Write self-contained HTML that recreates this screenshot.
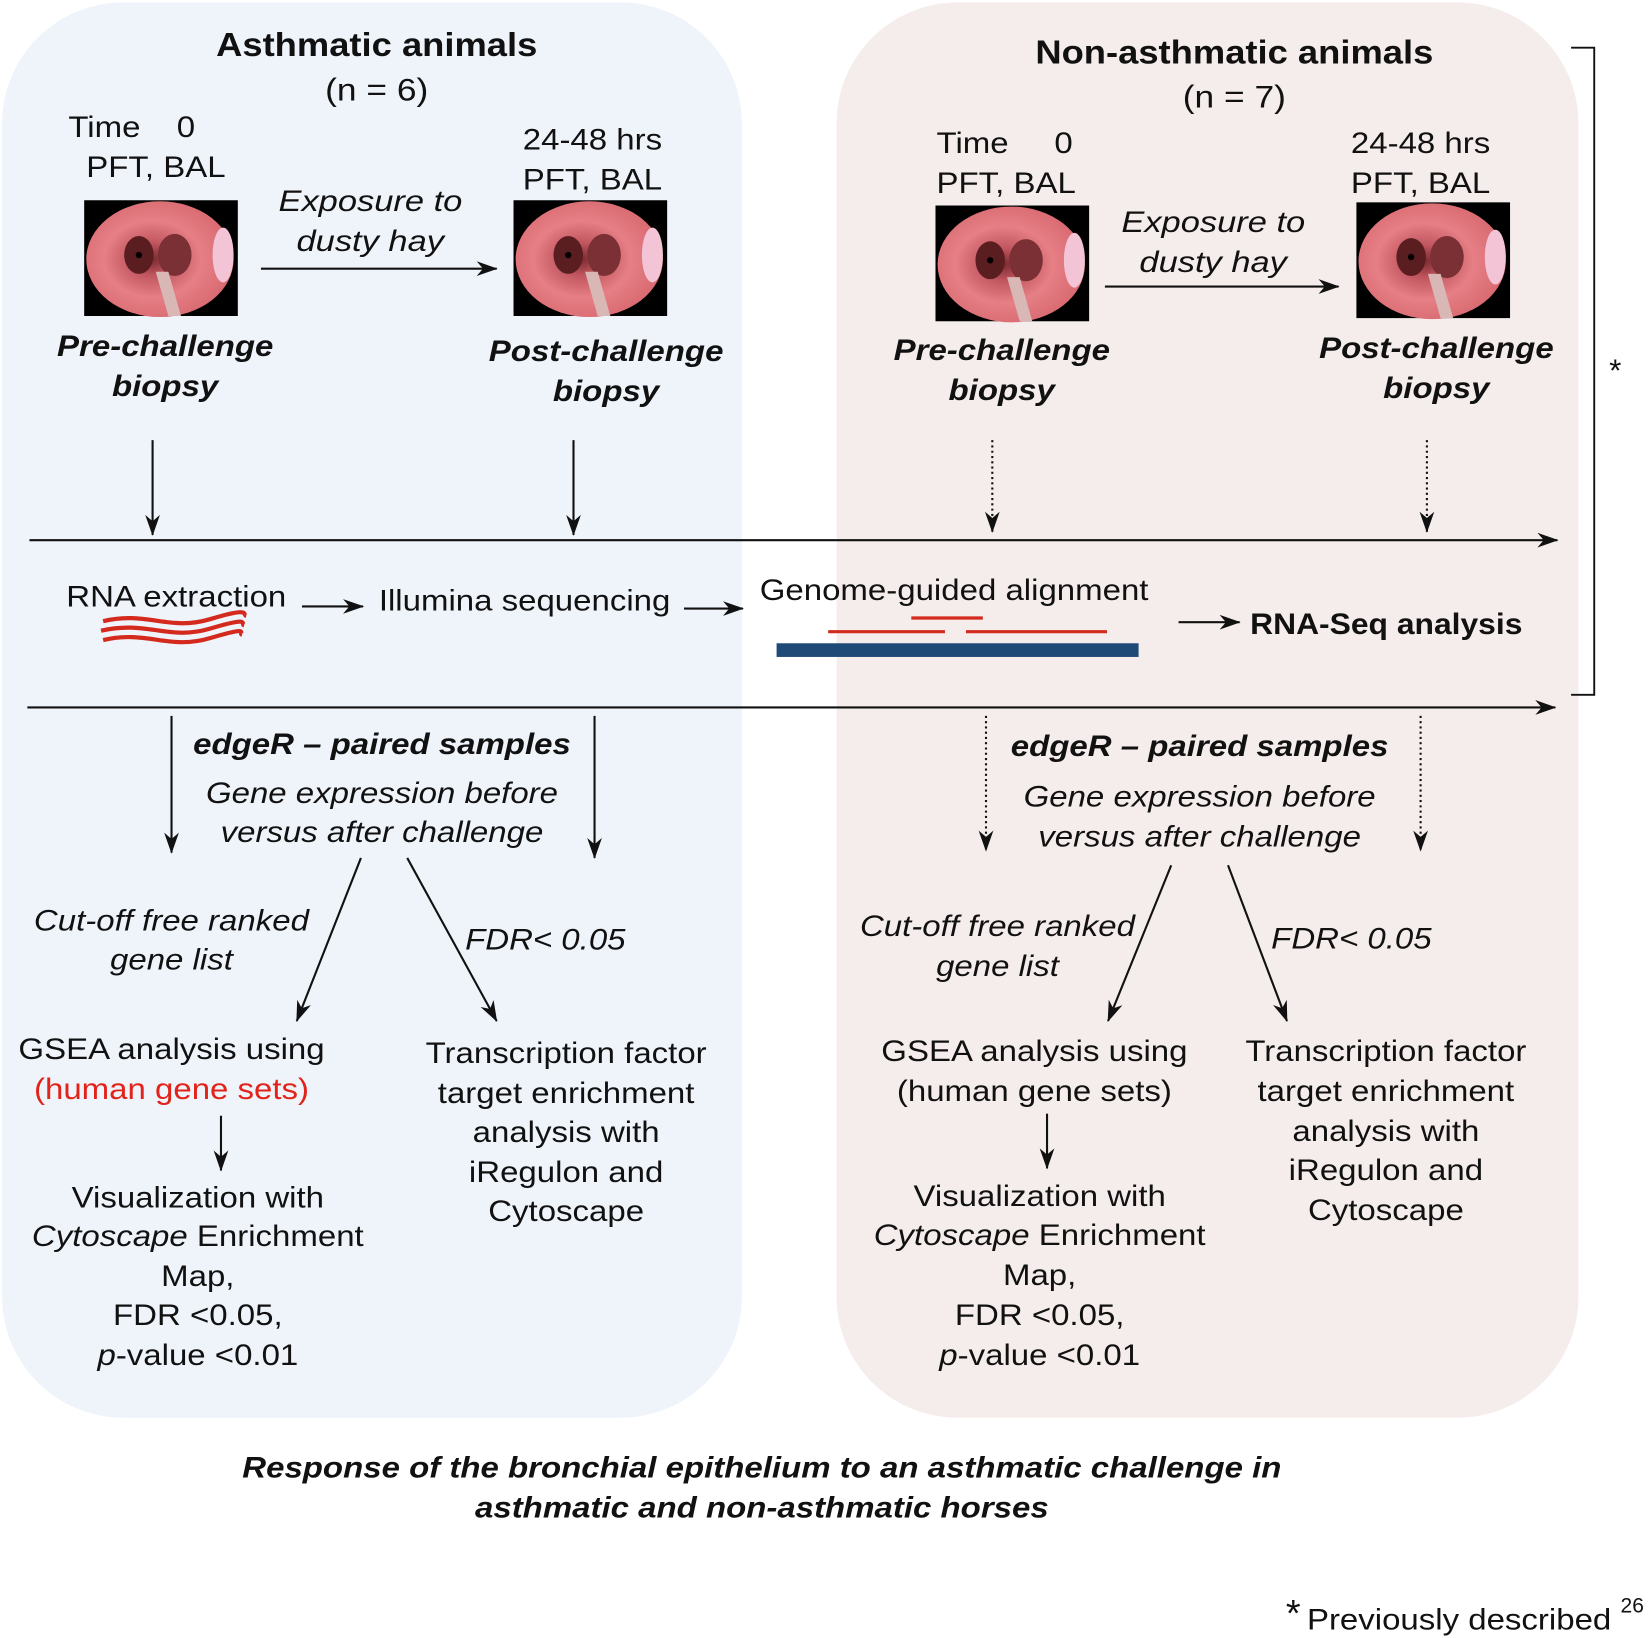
<!DOCTYPE html>
<html><head><meta charset="utf-8"><style>
html,body{margin:0;padding:0;background:#fff;}
svg{display:block;}
text{font-family:"Liberation Sans",Arial,sans-serif;font-size:28px;fill:#111;transform-box:fill-box;transform-origin:left center;transform:scaleX(1.12);}
.c{text-anchor:middle;transform-origin:center center;}
.i{font-style:italic;}
.b{font-weight:bold;}
.t{transform:scaleX(1.08);}
.e{transform:scaleX(1.17);}
.n{transform:none;}
</style></head><body>
<svg width="1650" height="1638" viewBox="0 0 1568 1556" xmlns="http://www.w3.org/2000/svg">
<defs>
<marker id="ah" viewBox="0 0 20 14" refX="19" refY="7" markerWidth="20" markerHeight="14" markerUnits="userSpaceOnUse" orient="auto">
<path d="M0,0 L20,7 L0,14 L6,7 Z" fill="#111"/>
</marker>
<radialGradient id="pk" cx="0.45" cy="0.5" r="0.55">
<stop offset="0" stop-color="#7a2a30"/>
<stop offset="0.25" stop-color="#c0555e"/>
<stop offset="0.6" stop-color="#e67f86"/>
<stop offset="1" stop-color="#d86a70"/>
</radialGradient>
<g id="endo">
<rect x="0" y="0" width="146" height="110" fill="#000"/>
<ellipse cx="72" cy="56" rx="70" ry="55" fill="url(#pk)"/>
<ellipse cx="132" cy="52" rx="10" ry="26" fill="#f3c4d6"/>
<ellipse cx="52" cy="52" rx="14" ry="18" fill="#5a1d20"/>
<ellipse cx="86" cy="52" rx="16" ry="20" fill="#7a3035"/>
<circle cx="52" cy="52" r="3" fill="#000"/>
<path d="M68,68 L80,68 L92,110 L80,110 Z" fill="#d9b7b5"/>
</g>
</defs>

<rect x="2" y="2" width="703" height="1345" rx="115" ry="115" fill="#eff4fb"/>
<rect x="795" y="2" width="705" height="1345" rx="115" ry="115" fill="#f5edeb"/>

<path d="M1493,45 L1515,45 L1515,660 L1493,660" fill="none" stroke="#111" stroke-width="1.8"/>
<text x="1535" y="362" class="c n" style="font-size:30px">*</text>

<text x="358" y="53" class="c b t" style="font-size:32px">Asthmatic animals</text>
<text x="358" y="95" class="c" style="font-size:30px">(n = 6)</text>
<text x="65" y="130">Time</text><text x="168" y="130">0</text>
<text x="82" y="168">PFT, BAL</text>
<use href="#endo" x="80" y="190"/>
<use href="#endo" x="488" y="190"/>
<text x="352" y="200" class="c i e">Exposure to</text>
<text x="352" y="238" class="c i e">dusty hay</text>
<line x1="248" y1="255" x2="472" y2="255" stroke="#111" stroke-width="2" marker-end="url(#ah)"/>
<text x="563" y="142" class="c">24-48 hrs</text>
<text x="563" y="180" class="c">PFT, BAL</text>
<text x="157" y="338" class="c b i">Pre-challenge</text>
<text x="157" y="376" class="c b i">biopsy</text>
<text x="576" y="343" class="c b i">Post-challenge</text>
<text x="576" y="381" class="c b i">biopsy</text>
<line x1="145" y1="418" x2="145" y2="508" stroke="#111" stroke-width="2" marker-end="url(#ah)"/>
<line x1="545" y1="418" x2="545" y2="508" stroke="#111" stroke-width="2" marker-end="url(#ah)"/>

<text x="1173" y="60" class="c b t" style="font-size:32px">Non-asthmatic animals</text>
<text x="1173" y="102" class="c" style="font-size:30px">(n = 7)</text>
<text x="890" y="145">Time</text><text x="1002" y="145">0</text>
<text x="890" y="183">PFT, BAL</text>
<use href="#endo" x="889" y="195"/>
<use href="#endo" x="1289" y="192"/>
<text x="1350" y="145" class="c">24-48 hrs</text>
<text x="1350" y="183" class="c">PFT, BAL</text>
<text x="1153" y="220" class="c i e">Exposure to</text>
<text x="1153" y="258" class="c i e">dusty hay</text>
<line x1="1050" y1="272" x2="1272" y2="272" stroke="#111" stroke-width="2" marker-end="url(#ah)"/>
<text x="952" y="342" class="c b i">Pre-challenge</text>
<text x="952" y="380" class="c b i">biopsy</text>
<text x="1365" y="340" class="c b i">Post-challenge</text>
<text x="1365" y="378" class="c b i">biopsy</text>
<line x1="943" y1="418" x2="943" y2="505" stroke="#111" stroke-width="2" stroke-dasharray="2,3" marker-end="url(#ah)"/>
<line x1="1356" y1="418" x2="1356" y2="505" stroke="#111" stroke-width="2" stroke-dasharray="2,3" marker-end="url(#ah)"/>

<line x1="28" y1="513" x2="1480" y2="513" stroke="#111" stroke-width="2" marker-end="url(#ah)"/>
<text x="63" y="576">RNA extraction</text>
<g fill="none" stroke="#d42a1e" stroke-width="4">
<path d="M98,590 C140,580 160,600 200,588 S230,584 234,585"/>
<path d="M96,599 C140,589 160,609 200,597 S228,593 232,594"/>
<path d="M98,608 C140,598 160,618 200,606 S226,602 230,603"/>
</g>
<line x1="287" y1="576" x2="345" y2="576" stroke="#111" stroke-width="2" marker-end="url(#ah)"/>
<text x="360" y="580">Illumina sequencing</text>
<line x1="650" y1="578" x2="706" y2="578" stroke="#111" stroke-width="2" marker-end="url(#ah)"/>
<text x="722" y="570">Genome-guided alignment</text>
<line x1="866" y1="587" x2="934" y2="587" stroke="#d42a1e" stroke-width="3"/>
<line x1="787" y1="600" x2="898" y2="600" stroke="#d42a1e" stroke-width="3"/>
<line x1="918" y1="600" x2="1052" y2="600" stroke="#d42a1e" stroke-width="3"/>
<rect x="738" y="611" width="344" height="13" fill="#1f4a78"/>
<line x1="1120" y1="591" x2="1178" y2="591" stroke="#111" stroke-width="2" marker-end="url(#ah)"/>
<text x="1188" y="602" class="b t">RNA-Seq analysis</text>
<line x1="26" y1="672" x2="1478" y2="672" stroke="#111" stroke-width="2" marker-end="url(#ah)"/>

<line x1="163" y1="680" x2="163" y2="810" stroke="#111" stroke-width="2" marker-end="url(#ah)"/>
<line x1="565" y1="680" x2="565" y2="815" stroke="#111" stroke-width="2" marker-end="url(#ah)"/>
<text x="363" y="716" class="c b i">edgeR – paired samples</text>
<text x="363" y="763" class="c i">Gene expression before</text>
<text x="363" y="800" class="c i">versus after challenge</text>
<line x1="343" y1="815" x2="282" y2="970" stroke="#111" stroke-width="2" marker-end="url(#ah)"/>
<line x1="387" y1="815" x2="472" y2="970" stroke="#111" stroke-width="2" marker-end="url(#ah)"/>
<text x="163" y="884" class="c i">Cut-off free ranked</text>
<text x="163" y="921" class="c i">gene list</text>
<text x="442" y="902" class="i">FDR&lt; 0.05</text>
<text x="163" y="1006" class="c">GSEA analysis using</text>
<text x="163" y="1044" class="c" style="fill:#e2231a">(human gene sets)</text>
<line x1="210" y1="1060" x2="210" y2="1112" stroke="#111" stroke-width="2" marker-end="url(#ah)"/>
<text x="188" y="1147" class="c">Visualization with</text>
<text x="188" y="1184" class="c"><tspan class="i">Cytoscape</tspan> Enrichment</text>
<text x="188" y="1222" class="c">Map,</text>
<text x="188" y="1259" class="c">FDR &lt;0.05,</text>
<text x="188" y="1297" class="c"><tspan class="i">p</tspan>-value &lt;0.01</text>
<text x="538" y="1010" class="c">Transcription factor</text>
<text x="538" y="1048" class="c">target enrichment</text>
<text x="538" y="1085" class="c">analysis with</text>
<text x="538" y="1123" class="c">iRegulon and</text>
<text x="538" y="1160" class="c">Cytoscape</text>

<line x1="937" y1="680" x2="937" y2="808" stroke="#111" stroke-width="2" stroke-dasharray="2,3" marker-end="url(#ah)"/>
<line x1="1350" y1="680" x2="1350" y2="808" stroke="#111" stroke-width="2" stroke-dasharray="2,3" marker-end="url(#ah)"/>
<text x="1140" y="718" class="c b i">edgeR – paired samples</text>
<text x="1140" y="766" class="c i">Gene expression before</text>
<text x="1140" y="804" class="c i">versus after challenge</text>
<line x1="1113" y1="822" x2="1053" y2="970" stroke="#111" stroke-width="2" marker-end="url(#ah)"/>
<line x1="1167" y1="822" x2="1223" y2="970" stroke="#111" stroke-width="2" marker-end="url(#ah)"/>
<text x="948" y="889" class="c i">Cut-off free ranked</text>
<text x="948" y="927" class="c i">gene list</text>
<text x="1208" y="901" class="i">FDR&lt; 0.05</text>
<text x="983" y="1008" class="c">GSEA analysis using</text>
<text x="983" y="1046" class="c">(human gene sets)</text>
<line x1="995" y1="1058" x2="995" y2="1110" stroke="#111" stroke-width="2" marker-end="url(#ah)"/>
<text x="988" y="1146" class="c">Visualization with</text>
<text x="988" y="1183" class="c"><tspan class="i">Cytoscape</tspan> Enrichment</text>
<text x="988" y="1221" class="c">Map,</text>
<text x="988" y="1259" class="c">FDR &lt;0.05,</text>
<text x="988" y="1297" class="c"><tspan class="i">p</tspan>-value &lt;0.01</text>
<text x="1317" y="1008" class="c">Transcription factor</text>
<text x="1317" y="1046" class="c">target enrichment</text>
<text x="1317" y="1084" class="c">analysis with</text>
<text x="1317" y="1121" class="c">iRegulon and</text>
<text x="1317" y="1159" class="c">Cytoscape</text>

<text x="724" y="1404" class="c b i">Response of the bronchial epithelium to an asthmatic challenge in</text>
<text x="724" y="1442" class="c b i">asthmatic and non-asthmatic horses</text>

<text x="1222" y="1545" class="n" style="font-size:36px">*</text>
<text x="1242" y="1548">Previously described</text>
<text x="1540" y="1532" class="n" style="font-size:20px">26</text>
</svg>
</body></html>
